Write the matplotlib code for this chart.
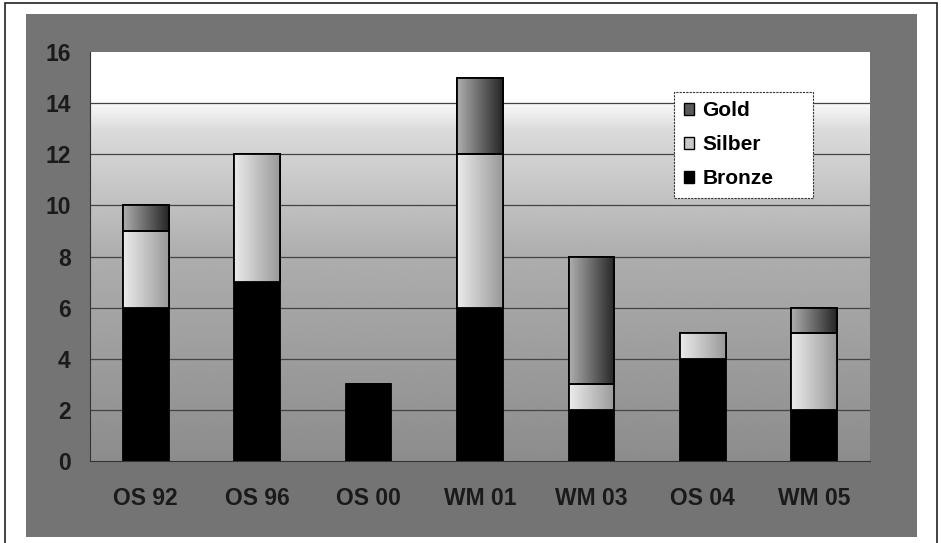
import numpy as np
from matplotlib import pyplot as plt
from matplotlib.patches import Rectangle, Patch

categories = ['OS 92', 'OS 96', 'OS 00', 'WM 01', 'WM 03', 'OS 04', 'WM 05']
bronze = [6, 7, 3, 6, 2, 4, 2]
silber = [3, 5, 0, 6, 1, 1, 3]
gold = [1, 0, 0, 3, 5, 0, 1]
yticks = [0, 2, 4, 6, 8, 10, 12, 14, 16]


def shade_bars(ax, bars, left, right):
    # horizontal grey ramp clipped to each bar
    ramp = np.linspace(left, right, 64).reshape(1, -1)
    for b in bars:
        if b.get_height() == 0:
            continue
        x, y = b.get_x(), b.get_y()
        im = ax.imshow(ramp, cmap='gray', vmin=0, vmax=1, aspect='auto',
                       extent=(x, x + b.get_width(), y, y + b.get_height()),
                       zorder=2.5, interpolation='bicubic')
        im.set_clip_path(b)


def main():
    plt.rcParams['font.family'] = ['Liberation Sans', 'DejaVu Sans']
    plt.rcParams['font.weight'] = 'bold'

    fig = plt.figure(figsize=(9.41, 5.43), dpi=100)
    fig.patch.set_facecolor('white')

    # outer thin border and grey frame behind the plot
    fig.patches.append(Rectangle((5 / 941, -0.01), 932 / 941, 1 - 3 / 543 + 0.01,
                                 transform=fig.transFigure, fill=False,
                                 edgecolor='#222222', linewidth=1.2, zorder=-2))
    fig.patches.append(Rectangle((26 / 941, 6 / 543), 891 / 941, 523 / 543,
                                 transform=fig.transFigure, facecolor='#747474',
                                 edgecolor='none', zorder=-1))

    ax = fig.add_axes([90 / 941, 82 / 543, 780 / 941, 409 / 543])
    ax.set_xlim(-0.5, len(categories) - 0.5)
    ax.set_ylim(0, 16)

    # vertical background gradient, white at the top
    rows = np.linspace(16, 0, 200)
    shade = np.interp(rows, [0, 8, 13, 14.2, 16], [0.55, 0.68, 0.86, 1.0, 1.0])
    ax.imshow(shade.reshape(-1, 1), cmap='gray', vmin=0, vmax=1, aspect='auto',
              extent=(-0.5, len(categories) - 0.5, 0, 16), zorder=0)

    for t in yticks[1:-1]:
        ax.axhline(t, color='#444444', linewidth=0.9, zorder=1)

    x = np.arange(len(categories))
    w = 0.41
    bot2 = np.array(bronze)
    bot3 = bot2 + np.array(silber)
    ax.bar(x, bronze, w, color='black', edgecolor='black', linewidth=1.3, zorder=2)
    b2 = ax.bar(x, silber, w, bottom=bot2, color='#cccccc', edgecolor='black',
                linewidth=1.3, zorder=2)
    b3 = ax.bar(x, gold, w, bottom=bot3, color='#666666', edgecolor='black',
                linewidth=1.3, zorder=2)
    shade_bars(ax, b2, 0.92, 0.6)
    shade_bars(ax, b3, 0.68, 0.15)
    # redraw outlines on top of the ramps
    for b in list(b2) + list(b3):
        if b.get_height() > 0:
            ax.add_patch(Rectangle((b.get_x(), b.get_y()), b.get_width(), b.get_height(),
                                   fill=False, edgecolor='black', linewidth=1.3, zorder=3))

    ax.set_xticks(x)
    ax.set_xticklabels(categories, fontsize=16.5, color='#1a1a1a')
    ax.set_yticks(yticks)
    ax.set_yticklabels([str(t) for t in yticks], fontsize=16.5, color='#1a1a1a')
    ax.tick_params(axis='x', length=0, pad=19)
    ax.tick_params(axis='y', length=0, pad=14)
    for s in ['top', 'right']:
        ax.spines[s].set_visible(False)
    ax.spines['left'].set_color('#333333')
    ax.spines['bottom'].set_color('#333333')
    ax.spines['left'].set_linewidth(0.8)
    ax.spines['bottom'].set_linewidth(0.8)

    handles = [Patch(facecolor='#5a5a5a', edgecolor='black', label='Gold'),
               Patch(facecolor='#c8c8c8', edgecolor='black', label='Silber'),
               Patch(facecolor='black', edgecolor='black', label='Bronze')]
    leg = ax.legend(handles=handles, loc='upper left',
                    bbox_to_anchor=(0.749, 0.5, 0.178, 0.402), mode='expand',
                    fontsize=15, frameon=True, fancybox=False, framealpha=1,
                    handlelength=0.5, handleheight=0.5, handletextpad=0.4,
                    labelspacing=0.72, borderpad=0.45, borderaxespad=0)
    leg.get_frame().set_edgecolor('#333333')
    leg.get_frame().set_linewidth(0.8)
    leg.get_frame().set_linestyle((0, (2, 1)))
    leg.set_zorder(5)

    fig.savefig('out.png', dpi=100)


if __name__ == '__main__':
    main()
